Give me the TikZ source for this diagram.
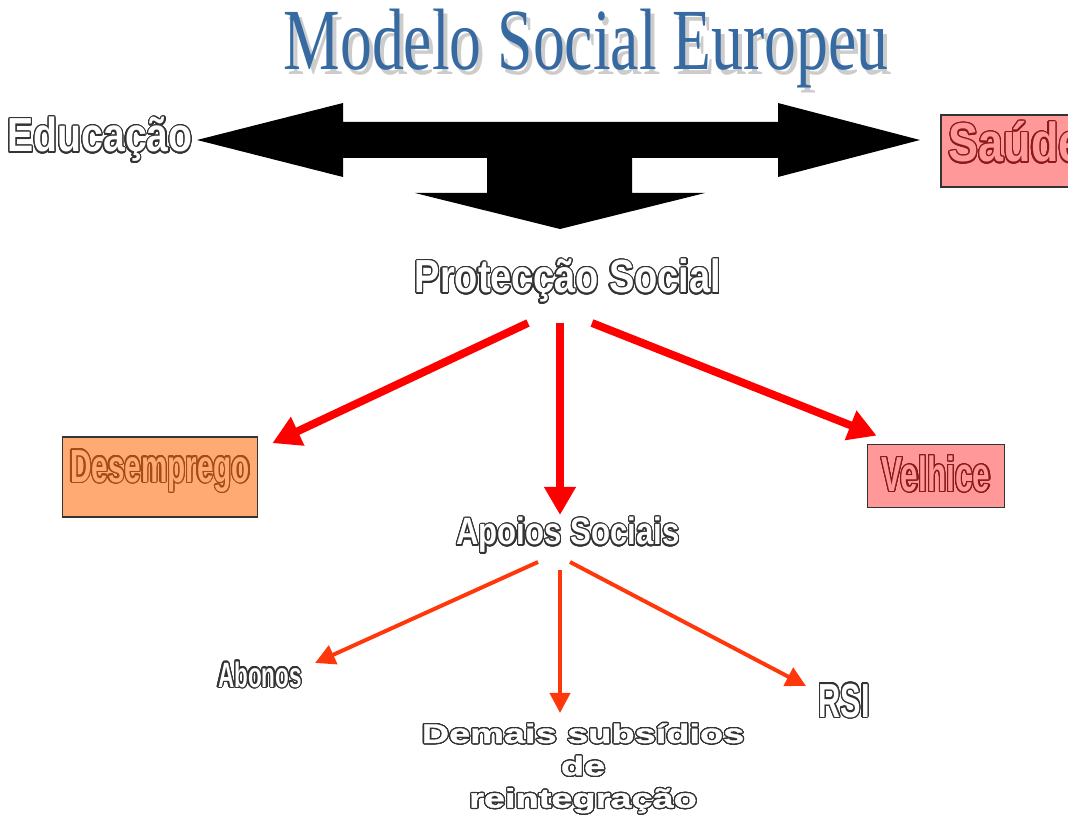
\documentclass[tikz,border=0pt]{standalone}
\usepackage{fontspec}
\setmainfont{Liberation Sans}
\newfontfamily\titlefont[FakeStretch=0.73]{Liberation Serif}
\newfontfamily\narrowfont[FakeStretch=0.82]{Liberation Sans}
\newfontfamily\slimfont[FakeStretch=0.64]{Liberation Sans}
\newfontfamily\widefont[FakeStretch=1.42,FakeBold=1.5]{Liberation Sans}
\usepackage{contour}
\contourlength{0.9pt}
\contournumber{24}
\usetikzlibrary{arrows.meta,positioning}
\definecolor{titleblue}{RGB}{56,106,162}
\definecolor{pinkbox}{RGB}{255,153,153}
\definecolor{orangebox}{RGB}{255,170,115}
\definecolor{darkred}{RGB}{140,25,25}
\definecolor{darkorange}{RGB}{165,75,20}
\definecolor{arrowred}{RGB}{255,0,0}
\definecolor{arroworange}{RGB}{255,55,10}

\begin{document}
\begin{tikzpicture}[x=0.025cm,y=-0.025cm,
  wordart/.style={text=white,inner sep=0pt,anchor=base},
  boxed/.style={draw=black!80,line width=1.2pt,inner sep=0pt},
  bigarrow/.style={draw=arrowred,line width=5.6pt,-{Triangle[length=0.7cm,width=0.75cm]}},
  smallarrow/.style={draw=arroworange,line width=2.8pt,-{Triangle[length=0.5cm,width=0.5cm]}}]
\useasboundingbox (0,0) rectangle (1068,820);
\node[anchor=base,inner sep=0pt,text=gray!40,font=\titlefont\fontsize{62}{62}\selectfont] (titleshadow) at (590,75) {Modelo Social Europeu};
\node[anchor=base,inner sep=0pt,text=titleblue,font=\titlefont\fontsize{62}{62}\selectfont] (title) at (586,70) {Modelo Social Europeu};
\fill[black] (197,140) -- (343,103) -- (343,122) -- (778,122) -- (778,103) -- (920,140) -- (778,177) -- (778,158)
  -- (632,158) -- (632,193) -- (705,193) -- (560,229) -- (415,193) -- (487,193) -- (487,158) -- (343,158) -- (343,177) -- cycle;
\node[wordart,font=\narrowfont\bfseries\fontsize{34}{34}\selectfont] (educ) at (100,152) {\contour{black!80}{Educação}};
\node[boxed,fill=pinkbox,text=pinkbox,minimum width=3.75cm,minimum height=1.8cm,text height=0.75cm,text depth=0.2cm,
  font=\narrowfont\bfseries\fontsize{39}{39}\selectfont] (saude) at (1016,151) {\contour{darkred}{Saúde}};
\node[wordart,font=\narrowfont\bfseries\fontsize{33}{33}\selectfont] (prot) at (568,293) {\contour{black!80}{Protecção Social}};
\node[boxed,fill=orangebox,text=orangebox,minimum width=4.875cm,minimum height=2cm,text height=0.6cm,text depth=0.35cm,
  font=\slimfont\bfseries\fontsize{33}{33}\selectfont] (desemp) at (160,477) {\contour{darkorange}{Desemprego}};
\node[boxed,fill=pinkbox,text=pinkbox,minimum width=3.425cm,minimum height=1.575cm,text height=0.9cm,text depth=0.125cm,
  font=\slimfont\bfseries\fontsize{35}{35}\selectfont] (velhice) at (936,476) {\contour{darkred}{Velhice}};
\node[wordart,font=\narrowfont\bfseries\fontsize{27}{27}\selectfont] (apoios) at (568,545) {\contour{black!80}{Apoios Sociais}};
\node[wordart,font=\slimfont\bfseries\fontsize{25}{25}\selectfont] (abonos) at (260,687) {\contour{black!80}{Abonos}};
\node[wordart,font=\slimfont\bfseries\fontsize{34}{34}\selectfont] (rsi) at (844,717) {\contour{black!80}{RSI}};
\node[text=white,inner sep=0pt,anchor=north,align=center,font=\widefont\bfseries\fontsize{19}{23}\selectfont] (demais) at (583,723)
  {\contour{black!80}{Demais subsídios}\\\contour{black!80}{de}\\\contour{black!80}{reintegração}};
\draw[bigarrow] ([shift={(-40,30)}]prot.base) -- ([shift={(14,7)}]desemp.north east);
\draw[bigarrow] ([shift={(-8,30)}]prot.base) -- ([shift={(-8,-30)}]apoios.base);
\draw[bigarrow] ([shift={(24,30)}]prot.base) -- ([shift={(10,-8)}]velhice.north west);
\draw[smallarrow] ([shift={(-30,17)}]apoios.base) -- ([shift={(55,-24)}]abonos.base);
\draw[smallarrow] ([shift={(-8,25)}]apoios.base) -- ([shift={(-23,-10)}]demais.north);
\draw[smallarrow] ([shift={(2,17)}]apoios.base) -- ([shift={(-38,-31)}]rsi.base);
\end{tikzpicture}
\end{document}
